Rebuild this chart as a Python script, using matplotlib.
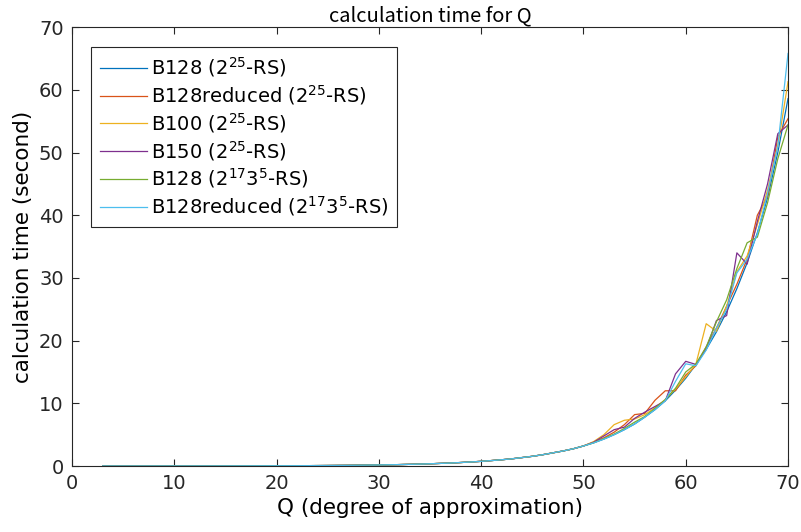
import matplotlib
matplotlib.use("Agg")
import matplotlib.pyplot as plt

plt.rcParams['font.family'] = ['DejaVu Sans']
plt.rcParams['mathtext.default'] = 'regular'

# Q = 3..49: all six series lie on top of each other
q_low = list(range(3, 50))
t_low = [0.005, 0.005, 0.005, 0.005, 0.006, 0.007, 0.008, 0.009, 0.01, 0.012,
         0.014, 0.016, 0.019, 0.022, 0.026, 0.03, 0.035, 0.04, 0.046, 0.053,
         0.062, 0.072, 0.083, 0.097, 0.11, 0.13, 0.15, 0.17, 0.2, 0.23,
         0.27, 0.31, 0.36, 0.42, 0.48, 0.56, 0.65, 0.75, 0.87, 1.0,
         1.15, 1.35, 1.55, 1.8, 2.1, 2.4, 2.75]

# Q = 50..70: series separate
q_high = list(range(50, 71))
b128 = [3.2, 3.7, 4.3, 5.0, 5.8, 6.7, 7.8, 9.0, 10.4, 12.1, 14.0,
        16.2, 18.6, 21.4, 24.6, 28.3, 32.4, 37.2, 42.8, 50.0, 58.6]
b128red = [3.2, 3.8, 4.5, 5.4, 6.6, 8.2, 8.4, 10.5, 12.0, 12.0, 14.5,
           16.0, 19.0, 22.0, 25.5, 29.0, 33.0, 40.0, 43.0, 52.5, 55.4]
b100 = [3.2, 3.9, 5.0, 6.6, 7.3, 7.5, 8.2, 9.3, 10.6, 12.3, 14.2,
        16.3, 22.7, 21.5, 25.5, 31.0, 33.5, 38.5, 44.0, 51.0, 61.3]
b150 = [3.2, 3.8, 4.8, 5.8, 6.2, 7.6, 8.6, 9.5, 10.4, 14.7, 16.7,
        16.2, 18.7, 23.2, 24.0, 34.0, 32.2, 39.0, 45.0, 53.0, 54.4]
b128_35 = [3.2, 3.7, 4.4, 5.1, 6.0, 7.0, 7.9, 9.2, 10.6, 12.4, 15.0,
           16.3, 19.0, 23.0, 26.5, 31.5, 35.6, 36.5, 42.0, 49.0, 54.4]
b128red_35 = [3.2, 3.7, 4.3, 5.0, 5.8, 6.7, 7.8, 9.0, 10.4, 13.5, 16.3,
              16.0, 18.5, 22.0, 25.0, 30.8, 33.0, 37.0, 43.5, 51.0, 65.8]

labels = ["B128 (2$^{25}$-RS)", "B128reduced (2$^{25}$-RS)", "B100 (2$^{25}$-RS)",
          "B150 (2$^{25}$-RS)", "B128 (2$^{17}$3$^{5}$-RS)", "B128reduced (2$^{17}$3$^{5}$-RS)"]
colors = ["#0072BD", "#D95319", "#EDB120", "#7E2F8E", "#77AC30", "#4DBEEE"]
series = [b128, b128red, b100, b150, b128_35, b128red_35]

fig = plt.figure(figsize=(8.01, 5.32), dpi=100)
ax = fig.add_axes([0.0899, 0.124, 0.8939, 0.825])

for vals, lab, c in zip(series, labels, colors):
    ax.plot(q_low + q_high, t_low + vals, color=c, lw=0.9, label=lab)

ax.set_xlim(0, 70)
ax.set_ylim(0, 70)
ax.set_xticks(range(0, 71, 10))
ax.set_yticks(range(0, 71, 10))
ax.tick_params(direction='in', labelsize=14, colors='#262626', length=5, top=True, right=True,
               labeltop=False, labelright=False, pad=6)
for s in ax.spines.values():
    s.set_color('#262626')
    s.set_linewidth(0.8)

ax.set_title("calculation time for Q", fontsize=14.5, pad=4, family=['Noto Sans CJK JP', 'DejaVu Sans'])
ax.set_xlabel("Q (degree of approximation)", fontsize=15.5, labelpad=3)
ax.set_ylabel("calculation time (second)", fontsize=15.5, labelpad=4)

leg = ax.legend(loc='upper left', fontsize=14, fancybox=False, framealpha=1,
                edgecolor='#262626', handlelength=2.4, borderaxespad=1.0,
                labelspacing=0.2, handletextpad=0.2, borderpad=0.45)
leg.get_frame().set_linewidth(0.8)

fig.savefig("out.png", dpi=100)
